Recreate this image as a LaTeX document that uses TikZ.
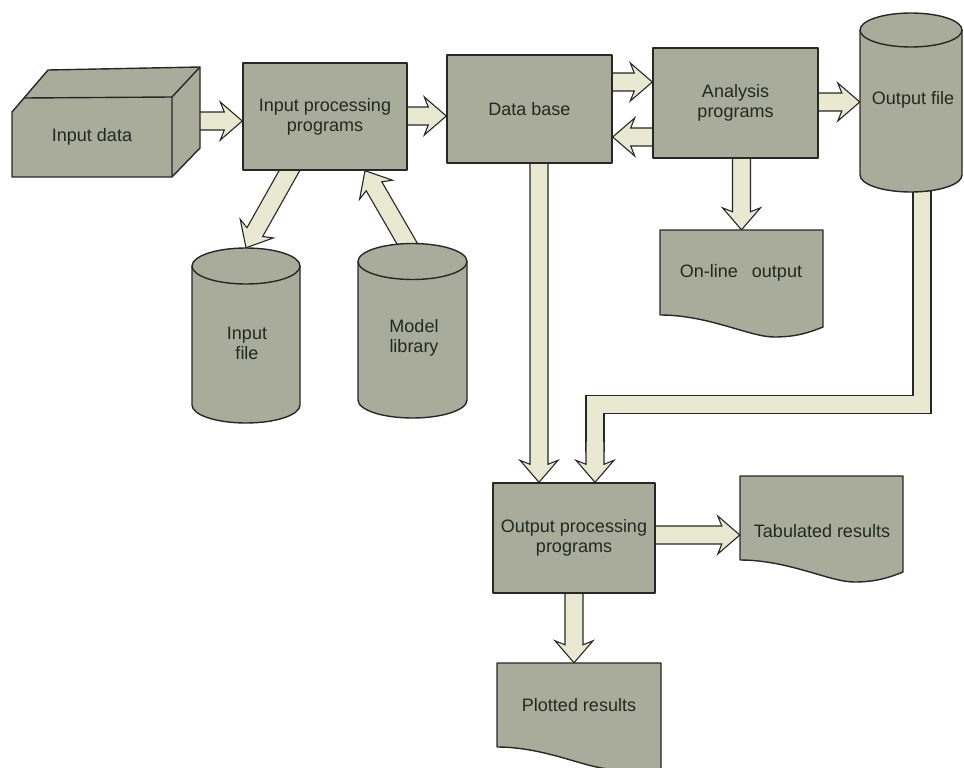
\documentclass[tikz,border=0pt]{standalone}
\usepackage{fontspec}
\setmainfont{Liberation Sans}
\usetikzlibrary{calc}
\definecolor{boxfill}{HTML}{A9AB9B}
\definecolor{arrfill}{HTML}{E9E9D2}
\definecolor{edge}{HTML}{262826}
\definecolor{ink}{HTML}{1F2B21}
\pgfdeclarelayer{bg}
\pgfsetlayers{bg,main}
\tikzset{
  shp/.style={draw=edge, fill=boxfill, line width=1.4pt, line join=round},
  box/.style={shp, rectangle, inner sep=0pt},
  ghost/.style={rectangle, inner sep=0pt, draw=none},
  txt/.style={text=ink, font=\fontsize{18}{20}\selectfont, align=center, inner sep=1pt},
  arr/.style={draw=edge, fill=arrfill, line width=1.1pt, line join=miter},
}
\newcommand\barrow[2]{%
  \coordinate (ba) at (#1);
  \coordinate (bb) at (#2);
  \coordinate (bc) at ($(bb)!18pt!(ba)$);
  \coordinate (bd) at ($(bb)!22pt!(ba)$);
  \filldraw[arr] ($(ba)!9pt!90:(bb)$) -- ($(bc)!9pt!90:(bb)$) -- ($(bd)!19pt!90:(bb)$) -- (bb)
     -- ($(bd)!19pt!-90:(bb)$) -- ($(bc)!9pt!-90:(bb)$) -- ($(ba)!9pt!-90:(bb)$);
}
\newcommand\cyl[5]{% cx, rx, ytop centre, ybottom centre, ry
  \filldraw[shp] ({#1-#2},#3) -- ({#1-#2},#4)
    arc[start angle=180,end angle=360,x radius=#2pt,y radius=#5pt]
    -- ({#1+#2},#3)
    arc[start angle=0,end angle=180,x radius=#2pt,y radius=#5pt] -- cycle;
  \draw[shp, fill=none] ({#1-#2},#3)
    arc[start angle=180,end angle=360,x radius=#2pt,y radius=#5pt];
}
\newcommand\docshape[5]{% x0, ytop, x1, yleft bottom, yright bottom
  \filldraw[shp] (#1,#2) -- (#3,#2) -- (#3,#5)
    .. controls ({#3-0.12*(#3-#1)},{#5+8}) and ({#1+0.8*(#3-#1)},{#4+22}) .. ({#1+0.7*(#3-#1)},{#4+22})
    .. controls ({#1+0.55*(#3-#1)},{#4+22}) and ({#1+0.3*(#3-#1)},{#4}) .. (#1,#4) -- cycle;
}
\begin{document}
\begin{tikzpicture}[x=1pt,y=-1pt]
\useasboundingbox (0,0) rectangle (964,768);
\clip (0,0) rectangle (964,768);

% Input data (3D block)
\filldraw[shp] (12,177) -- (12,112) -- (48,70) -- (200,67) -- (200,148) -- (172,177) -- cycle;
\draw[shp, fill=none] (24,98) -- (172,97) -- (172,177) (172,97) -- (200,67);
\node[ghost, txt, minimum width=160pt, minimum height=80pt] (indata) at (92,137) {Input data};

% Rectangular boxes
\node[box, txt, minimum width=164pt, minimum height=107pt] (ipp) at (325,116.5) {Input processing\\programs};
\node[box, txt, minimum width=165pt, minimum height=108pt] (db) at (529.5,109) {Data base};
\node[box, txt, minimum width=165pt, minimum height=110pt] (ap) at (735.5,103) {Analysis\\programs};
\node[box, txt, minimum width=162pt, minimum height=110pt] (opp) at (574,538) {Output processing\\programs};

% Cylinders
\cyl{911}{51}{30}{175}{17}
\node[ghost, minimum width=102pt, minimum height=179pt] (of) at (911,102.5) {};
\node[txt] (of-t) at (913,100) {Output file};

\cyl{246}{54}{266}{405}{18}
\node[ghost, minimum width=108pt, minimum height=175pt] (inputfile) at (246,335.5) {};
\node[txt] (inputfile-t) at (247,343) {Input\\file};

\cyl{412.5}{54.5}{261.5}{400}{18}
\node[ghost, minimum width=109pt, minimum height=175pt] (modellib) at (412.5,330.5) {};
\node[txt] (modellib-t) at (414,338) {Model\\library};

% Documents
\docshape{660}{230}{823}{315}{327}
\node[ghost, minimum width=163pt, minimum height=85pt] (online) at (741.5,272.5) {};
\node[txt] (online-t) at (741,273) {On-line\hspace{0.5em} output};

\docshape{740}{476}{903}{560}{572}
\node[ghost, minimum width=163pt, minimum height=84pt] (tab) at (821.5,518) {};
\node[txt] (tab-t) at (822,531) {Tabulated results};

\docshape{497}{663}{661}{747}{772}
\node[ghost, minimum width=164pt, minimum height=84pt] (plotted) at (579,705) {};
\node[txt] (plotted-t) at (579,705) {Plotted results};

% Connectors
\begin{pgfonlayer}{bg}
  \barrow{$(indata.east)+(15,-16)$}{$(ipp.west)+(0,4.5)$}
  \barrow{$(ipp.east)+(-10,-0.5)$}{$(db.west)+(0,7)$}
  \barrow{$(db.east)+(-10,-27)$}{$(ap.west)+(0,-21)$}
  \barrow{$(ap.west)+(10,34)$}{$(db.east)+(0,28)$}
  \barrow{$(ap.east)+(-10,-1)$}{$(of.west)+(0,-0.5)$}
  \barrow{$(online.north)+(0,-80)$}{online.north}
  \barrow{$(ipp.south)+(-30,-10)$}{inputfile.north}
  \barrow{$(modellib.north)+(0,10)$}{$(ipp.south)+(40,0)$}
  \barrow{$(opp.north)+(-35,-330)$}{$(opp.north)+(-35,0)$}
  \draw[edge, line width=19.2pt, line join=miter] ($(of.south)+(11,-10)$) |- ($(opp.north)+(21,-78)$) -- ($(opp.north)+(21,-30)$);
  \draw[arrfill, line width=16.8pt, line join=miter] ($(of.south)+(11,-10)$) |- ($(opp.north)+(21,-78)$) -- ($(opp.north)+(21,-30)$);
  \barrow{$(opp.north)+(21,-40)$}{$(opp.north)+(21,0)$}
  \barrow{$(opp.east)+(-10,-3)$}{$(opp.east -| tab.west)+(0,-3)$}
  \barrow{$(opp.south)+(0,-10)$}{opp.south |- plotted.north}
\end{pgfonlayer}
\end{tikzpicture}
\end{document}
